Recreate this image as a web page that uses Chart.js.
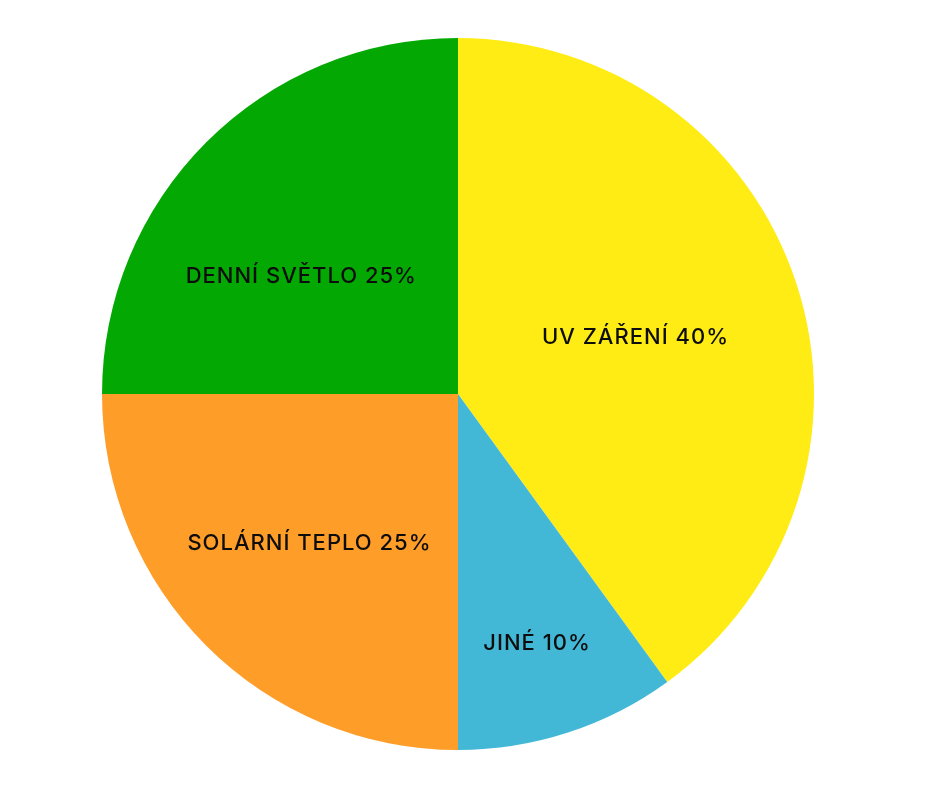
<!DOCTYPE html>
<html>
<head>
<meta charset="utf-8">
<script src="https://cdn.jsdelivr.net/npm/chart.js@4.4.1/dist/chart.umd.min.js"></script>
<style>
html,body{margin:0;padding:0;background:#fff;}
#wrap{width:940px;height:788px;}
</style>
</head>
<body>
<div id="wrap"><canvas id="c" width="940" height="788"></canvas></div>
<script>
const categories = ['UV ZÁŘENÍ', 'JINÉ', 'SOLÁRNÍ TEPLO', 'DENNÍ SVĚTLO'];
const values = [40, 10, 25, 25];
const colors = ['#FFEC15', '#42B8D6', '#FF9D29', '#03A902'];
// label placement: fraction along slice angle, fraction of radius
const labelAngleFrac = [0.503, 0.511, 0.499, 0.411];
const labelRadiusFrac = [0.523, 0.734, 0.591, 0.551];

const labelPlugin = {
  id: 'sliceLabels',
  afterDatasetsDraw(chart) {
    const ctx = chart.ctx;
    const meta = chart.getDatasetMeta(0);
    ctx.save();
    ctx.font = '500 22px Inter, "Noto Sans", sans-serif';
    if ('letterSpacing' in ctx) ctx.letterSpacing = '1px';
    ctx.fillStyle = '#0d0d0d';
    ctx.textAlign = 'center';
    ctx.textBaseline = 'middle';
    meta.data.forEach((arc, i) => {
      const p = arc.getProps(['x','y','startAngle','endAngle','outerRadius'], true);
      const a = p.startAngle + labelAngleFrac[i] * (p.endAngle - p.startAngle);
      const r = p.outerRadius * labelRadiusFrac[i];
      const tx = p.x + Math.cos(a) * r;
      const ty = p.y + Math.sin(a) * r;
      ctx.fillText(categories[i] + ' ' + values[i] + '%', tx, ty);
    });
    ctx.restore();
  }
};

new Chart(document.getElementById('c'), {
  type: 'pie',
  data: {
    labels: categories,
    datasets: [{
      data: values,
      backgroundColor: colors,
      borderWidth: 0,
      hoverOffset: 0
    }]
  },
  options: {
    responsive: false,
    animation: false,
    devicePixelRatio: 1,
    layout: { padding: { top: 38, bottom: 38, left: 0, right: 24 } },
    plugins: {
      legend: { display: false },
      tooltip: { enabled: false },
      title: { display: false }
    }
  },
  plugins: [labelPlugin]
});
</script>
</body>
</html>
